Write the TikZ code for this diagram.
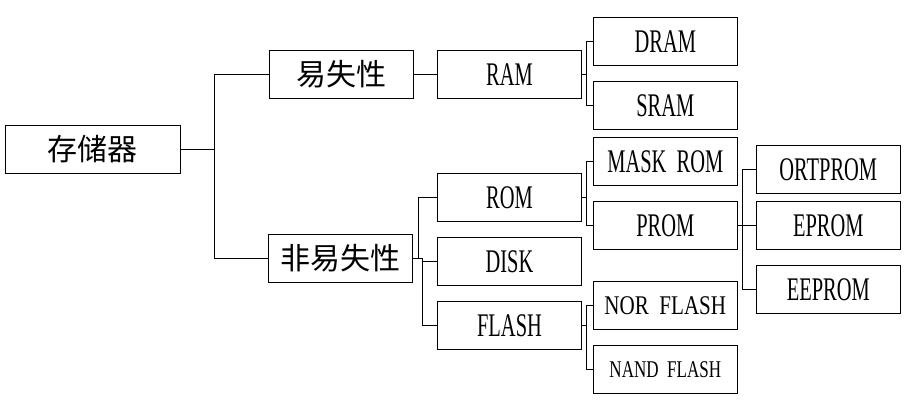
\documentclass[tikz,border=0pt]{standalone}
\usepackage{fontspec}
\setmainfont[FakeStretch=0.62,WordSpace=2]{Liberation Serif}
\newfontfamily\latinB[FakeStretch=0.78,WordSpace=2]{Liberation Serif}
\newfontfamily\latinC[FakeStretch=0.71,WordSpace=2]{Liberation Serif}
\newfontfamily\cjk{Noto Sans CJK SC}
\begin{document}
\begin{tikzpicture}[x=1pt,y=-1pt,
  box/.style={draw, line width=0.9pt, minimum width=144pt, minimum height=47.6pt,
    inner sep=0pt, font=\fontsize{33pt}{38pt}\selectfont},
  cjkbox/.style={box, font=\fontsize{30pt}{36pt}\selectfont\cjk},
  conn/.style={line width=0.9pt}]
\useasboundingbox (0,0) rectangle (907,403);

\node[cjkbox, minimum width=175pt] (store) at (92.8,149.5) {存储器};
\node[cjkbox] (vol) at (341.3,74.5) {易失性};
\node[cjkbox, minimum width=143.6pt] (nvol) at (340.5,258.5) {非易失性};

\node[box] (ram) at (509.5,74.5) {RAM};
\node[box] (rom) at (509.5,197.3) {ROM};
\node[box] (disk) at (509.5,261.5) {DISK};
\node[box] (flash) at (509.5,325.5) {FLASH};

\node[box] (dram) at (665.3,41.5) {DRAM};
\node[box] (sram) at (665.3,105.3) {SRAM};
\node[box] (mask) at (665.3,161.3) {MASK ROM};
\node[box] (prom) at (665.3,225.3) {PROM};
\node[box, font=\fontsize{27pt}{32pt}\selectfont\latinB] (nor) at (665.3,305.5) {NOR FLASH};
\node[box, font=\fontsize{24pt}{28pt}\selectfont\latinC] (nand) at (665.3,369.5) {NAND FLASH};

\node[box] (ort) at (828.3,169.5) {ORTPROM};
\node[box] (eprom) at (828.3,225.3) {EPROM};
\node[box] (eeprom) at (828.3,289.5) {EEPROM};

\draw[conn] (store.east) -- ++(34,0) |- (vol.west);
\draw[conn] (store.east) -- ++(34,0) |- (nvol.west);
\draw[conn] (vol.east) -- (ram.west);

\draw[conn] (ram.east) -- ++(4.3,0) |- (dram.west);
\draw[conn] (ram.east) -- ++(4.3,0) |- (sram.west);

\draw[conn] (nvol.east) -- ++(6,0) |- (rom.west);
\draw[conn] (nvol.east) -- ++(9.4,0) |- (disk.west);
\draw[conn] (nvol.east) -- ++(9.4,0) |- (flash.west);

\draw[conn] (rom.east) -- ++(4.3,0) |- (mask.west);
\draw[conn] (rom.east) -- ++(4.3,0) |- (prom.west);

\draw[conn] (flash.east) -- ++(4.3,0) |- (nor.west);
\draw[conn] (flash.east) -- ++(4.3,0) |- (nand.west);

\draw[conn] (prom.east) -- ++(5,0) |- (ort.west);
\draw[conn] (prom.east) -- ++(5,0) |- (eprom.west);
\draw[conn] (prom.east) -- ++(5,0) |- (eeprom.west);
\end{tikzpicture}
\end{document}
